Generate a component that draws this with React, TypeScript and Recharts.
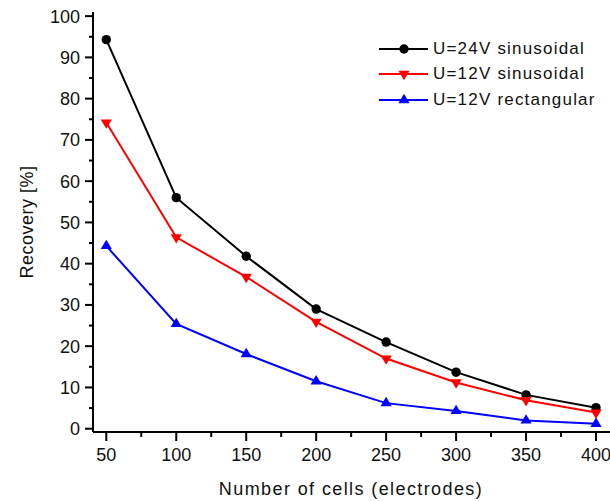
import { LineChart, Line, XAxis, YAxis, Legend, Label } from "recharts";

// cells (electrodes)
const cells = [50, 100, 150, 200, 250, 300, 350, 400];

// recovery [%]
const u24Sin = [94.3, 56.0, 41.8, 29.0, 21.0, 13.7, 8.2, 5.1];
const u12Sin = [74.2, 46.4, 36.8, 25.9, 17.0, 11.2, 6.9, 3.9];
const u12Rect = [44.3, 25.4, 18.1, 11.5, 6.2, 4.3, 2.0, 1.2];

// major + minor tick positions
const xTicks = [50, 75, 100, 125, 150, 175, 200, 225, 250, 275, 300, 325, 350, 375, 400];
const xLabels = [50, 100, 150, 200, 250, 300, 350, 400];
const yTicks = [0, 5, 10, 15, 20, 25, 30, 35, 40, 45, 50, 55, 60, 65, 70, 75, 80, 85, 90, 95, 100];
const yLabels = [0, 10, 20, 30, 40, 50, 60, 70, 80, 90, 100];

const data = cells.map((c, i) => ({
  cells: c,
  u24Sin: u24Sin[i],
  u12Sin: u12Sin[i],
  u12Rect: u12Rect[i],
}));

const FONT = "'Liberation Sans', Arial, sans-serif";

const series = [
  { key: "u24Sin", name: "U=24V sinusoidal", color: "#000000", marker: "circle" },
  { key: "u12Sin", name: "U=12V sinusoidal", color: "#ff0000", marker: "down" },
  { key: "u12Rect", name: "U=12V rectangular", color: "#0000ff", marker: "up" },
];

function Marker({ cx, cy, type, color }: any) {
  if (cx == null || cy == null) return null;
  if (type === "circle") return <circle cx={cx} cy={cy} r={4.7} fill={color} />;
  const s = 5.6;
  const h = 9.4;
  if (type === "down") {
    return (
      <polygon
        points={`${cx - s},${cy - h / 3} ${cx + s},${cy - h / 3} ${cx},${cy + (2 * h) / 3}`}
        fill={color}
      />
    );
  }
  return (
    <polygon
      points={`${cx - s},${cy + h / 3} ${cx + s},${cy + h / 3} ${cx},${cy - (2 * h) / 3}`}
      fill={color}
    />
  );
}

function XTick({ x, y, payload }: any) {
  const major = xLabels.includes(payload.value);
  return (
    <g>
      <line x1={x} x2={x} y1={y} y2={y + (major ? 9 : 5)} stroke="#000" strokeWidth={2} />
      {major && (
        <text x={x} y={y + 29} textAnchor="middle" fontSize={18} fontFamily={FONT} fill="#111">
          {payload.value}
        </text>
      )}
    </g>
  );
}

function YTick({ x, y, payload }: any) {
  const major = yLabels.includes(payload.value);
  return (
    <g>
      <line x1={x} x2={x - (major ? 8 : 4)} y1={y} y2={y} stroke="#000" strokeWidth={2} />
      {major && (
        <text x={x - 13} y={y + 6.5} textAnchor="end" fontSize={18} fontFamily={FONT} fill="#111">
          {payload.value}
        </text>
      )}
    </g>
  );
}

function LegendBox() {
  return (
    <div style={{ fontFamily: FONT, fontSize: 17, color: "#111" }}>
      {series.map((s) => (
        <div key={s.key} style={{ display: "flex", alignItems: "center", height: 25.5 }}>
          <svg width={54} height={14} style={{ display: "block" }}>
            <line x1={0} x2={49} y1={7} y2={7} stroke={s.color} strokeWidth={2} />
            <Marker cx={25} cy={7} type={s.marker} color={s.color} />
          </svg>
          <span style={{ letterSpacing: 1.2, whiteSpace: "nowrap" }}>{s.name}</span>
        </div>
      ))}
    </div>
  );
}

export default function App() {
  return (
    <div style={{ position: "absolute", left: 0, top: 0, width: 610, height: 501, background: "#fff" }}>
      <LineChart width={610} height={501} data={data} margin={{ top: 12, right: 0, left: 0, bottom: 0 }}>
        <XAxis
          dataKey="cells"
          type="number"
          domain={[40.5, 410]}
          ticks={xTicks}
          interval={0}
          height={69}
          tickSize={0}
          tickMargin={0}
          tickLine={false}
          axisLine={{ stroke: "#000", strokeWidth: 2 }}
          tick={<XTick />}
        >
          <Label
            content={() => (
              <text
                x={351}
                y={495}
                textAnchor="middle"
                fontSize={18}
                fontFamily={FONT}
                fill="#111"
                letterSpacing={1.4}
              >
                Number of cells (electrodes)
              </text>
            )}
          />
        </XAxis>
        <YAxis
          type="number"
          domain={[-0.8, 101]}
          ticks={yTicks}
          interval={0}
          width={93}
          tickSize={0}
          tickMargin={0}
          tickLine={false}
          axisLine={{ stroke: "#000", strokeWidth: 2 }}
          tick={<YTick />}
        >
          <Label
            content={() => (
              <text
                x={33}
                y={222}
                transform="rotate(-90 33 222)"
                textAnchor="middle"
                fontSize={18}
                fontFamily={FONT}
                fill="#111"
                letterSpacing={0.5}
              >
                Recovery [%]
              </text>
            )}
          />
        </YAxis>
        <Legend
          layout="vertical"
          align="center"
          verticalAlign="middle"
          wrapperStyle={{ top: 36, left: 379, width: 231 }}
          content={() => <LegendBox />}
        />
        {series.map((s) => (
          <Line
            key={s.key}
            dataKey={s.key}
            name={s.name}
            stroke={s.color}
            strokeWidth={2}
            isAnimationActive={false}
            dot={(p: any) => <Marker key={`${s.key}-${p.index}`} cx={p.cx} cy={p.cy} type={s.marker} color={s.color} />}
            activeDot={false}
          />
        ))}
      </LineChart>
    </div>
  );
}
